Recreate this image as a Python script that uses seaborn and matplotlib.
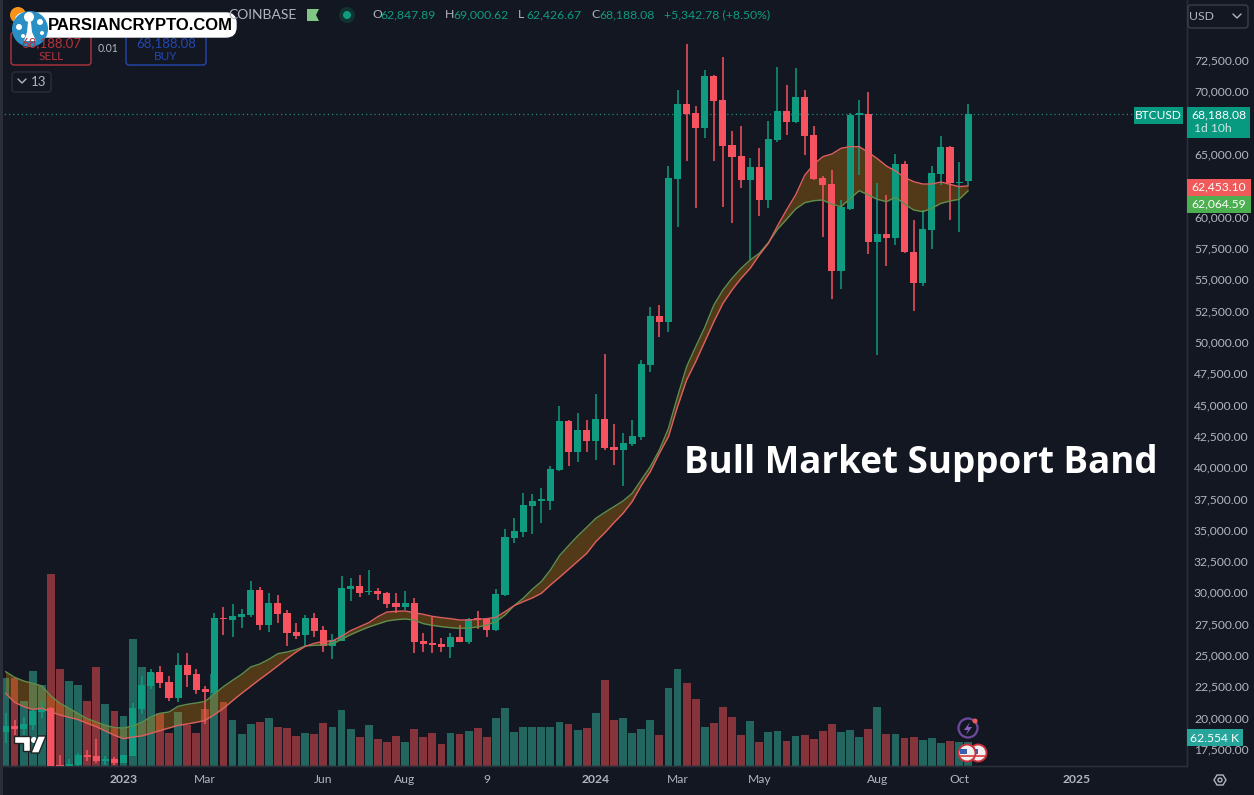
import numpy as np
import pandas as pd
import matplotlib
matplotlib.use('Agg')
import matplotlib.pyplot as plt
from matplotlib.patches import Circle, FancyBboxPatch, Polygon, Rectangle
import seaborn as sns

# weekly BTCUSD candles
opens = [18880, 19330, 19070, 19410, 20450, 20770, 16190, 16000, 16190, 16990, 16940, 16570, 16700, 16380, 16940, 20690, 22530, 23640, 22850, 21570,
         24200, 23480, 22310, 22000, 27960, 27800, 28040, 28200, 30190, 27400, 29150, 28350, 26840, 26600, 27960, 27000, 25720, 26120, 30270, 30510,
         30030, 30110, 29950, 29150, 28830, 29150, 26120, 25960, 25880, 25640, 26440, 26040, 27880, 27880, 27000, 29800, 34340, 34820, 36900, 37300,
         37300, 39770, 43680, 41210, 42960, 42090, 43840, 41610, 41370, 41850, 42400, 48150, 52060, 51590, 63000, 68990, 68270, 67070, 71220, 69310,
         65720, 64840, 62920, 63960, 61320, 66110, 68430, 67550, 69550, 66510, 63080, 62600, 55660, 60610, 68110, 68190, 57970, 58610, 58290, 64200,
         57170, 54700, 58930, 63400, 65560, 62680, 62847.89]
highs = [20400, 19810, 20080, 20740, 21280, 20880, 17020, 16670, 17150, 17420, 18300, 16940, 16890, 17050, 21200, 23330, 23860, 24120, 23330, 25140,
         25140, 23860, 22530, 28330, 28860, 29070, 28670, 30910, 30430, 29950, 29770, 28590, 27560, 28200, 28350, 27320, 26680, 31310, 31150, 31390,
         31790, 30350, 30030, 29950, 30110, 29530, 26730, 28060, 26330, 26730, 27400, 27930, 28510, 27930, 30270, 35060, 35940, 37930, 37850, 38330,
         40090, 44880, 43750, 44320, 43760, 45840, 49030, 43440, 42720, 43760, 48550, 52810, 52940, 64040, 70100, 73780, 68830, 71700, 71300, 72740,
         66830, 67230, 64680, 65480, 67630, 71970, 70500, 71860, 70100, 67230, 63240, 63720, 61320, 68240, 69310, 69950, 62680, 61720, 65000, 64440,
         59730, 60530, 64040, 66430, 65650, 64360, 69000.62]
lows = [17950, 18620, 18620, 19010, 19950, 15600, 15800, 15800, 16140, 16570, 16410, 16220, 16250, 16350, 16900, 20290, 22260, 22390, 21330, 21250,
        22450, 21890, 19490, 21800, 26600, 26440, 27160, 28040, 27000, 26840, 27560, 25720, 26280, 25720, 26440, 25240, 24680, 26100, 29310, 29630,
        29790, 29390, 28750, 28350, 28590, 25160, 25240, 25190, 25240, 24790, 26000, 25880, 27080, 26440, 26950, 29750, 33940, 34420, 34660, 35540,
        36580, 39700, 40090, 40410, 41210, 40570, 41370, 40170, 38490, 41690, 42170, 47590, 50410, 50790, 59170, 64440, 60690, 66270, 64440, 60770,
        59490, 62280, 56530, 60050, 60690, 65950, 66510, 67440, 64920, 62950, 58370, 53420, 54220, 60550, 63320, 57010, 48950, 56050, 57730, 57090,
        52460, 54460, 57410, 62520, 59730, 58770, 62426.67]
closes = [19330, 19070, 19490, 20530, 20800, 16000, 16000, 16270, 17020, 16890, 16510, 16670, 16380, 17020, 20770, 22610, 23640, 22770, 21570, 24200,
          23400, 22210, 22050, 27960, 27870, 28120, 28280, 30190, 27400, 29150, 28280, 26760, 26520, 27960, 26920, 25720, 26200, 30350, 30510, 29950,
          30110, 29870, 29070, 28830, 29150, 26040, 25880, 25800, 25640, 26440, 26040, 27880, 27800, 27000, 29870, 34420, 34900, 36980, 37300, 37380,
          39850, 43680, 41210, 42960, 42090, 43840, 41530, 41370, 41930, 42480, 48230, 52060, 51590, 63080, 68990, 68190, 67070, 71220, 69230, 65640,
          64760, 62920, 63960, 61320, 66190, 68430, 67550, 69550, 66430, 63000, 62520, 55660, 60770, 68110, 68190, 57970, 58610, 58290, 64200, 57170,
          54700, 59010, 63480, 65560, 62680, 62760, 68188.08]

# volume in thousands
volumes = [228, 230, 169, 247, 211, 499, 252, 221, 211, 169, 257, 161, 143, 130, 330, 257, 241, 137, 86, 140,
           107, 86, 148, 239, 166, 120, 83, 109, 114, 125, 101, 99, 78, 86, 83, 112, 101, 146, 96, 75,
           107, 70, 62, 78, 62, 96, 75, 86, 57, 86, 83, 91, 99, 75, 125, 151, 88, 101, 101, 101,
           101, 114, 109, 94, 99, 138, 224, 120, 125, 86, 96, 120, 81, 203, 252, 216, 174, 101, 112, 153,
           127, 81, 117, 62, 88, 91, 65, 78, 81, 70, 91, 109, 88, 94, 75, 96, 153, 83, 83, 73,
           75, 68, 73, 60, 65, 62, 62.554]

# bull market support band
ema_line = [23671, 23219, 22926, 22740, 22527, 21729, 21143, 20744, 20318, 19919, 19653, 19387, 19201, 19174, 19334, 19626, 20052, 20345, 20451, 20904,
            21063, 21170, 21303, 21888, 22474, 22979, 23458, 24044, 24283, 24656, 25108, 25241, 25427, 25720, 25773, 25800, 25880, 26252, 26625, 26944,
            27237, 27476, 27716, 27822, 27875, 27796, 27503, 27370, 27263, 27184, 27130, 27157, 27237, 27396, 27663, 28195, 28940, 29525, 30244, 30856,
            31787, 32931, 33730, 34501, 35193, 35912, 36391, 36843, 37295, 37907, 38972, 40036, 41367, 43096, 45624, 48019, 49616, 51159, 52942, 54139,
            55071, 55869, 56534, 57067, 57918, 58982, 59781, 60605, 61111, 61271, 61324, 60978, 60792, 61430, 62069, 61723, 61377, 61191, 61537, 61005,
            60526, 60393, 60659, 61058, 61244, 61377, 62064.59]
sma_line = [21941, 21223, 20877, 20664, 20744, 20451, 20212, 20025, 19839, 19546, 19280, 18934, 18589, 18322, 18455, 18535, 18748, 18961, 19174, 19387,
            19493, 19626, 19786, 20238, 20744, 21356, 21941, 22500, 23059, 23591, 24150, 24709, 25241, 25693, 25933, 26093, 26119, 26492, 26944, 27263,
            27583, 28062, 28434, 28487, 28514, 28381, 28248, 28088, 27982, 27902, 27796, 27796, 27849, 27902, 28008, 28461, 28940, 29259, 29552, 29924,
            30590, 31202, 31840, 32479, 33118, 34049, 34767, 35566, 36311, 37242, 38519, 39637, 41101, 42431, 44826, 46955, 48418, 50015, 51612, 53075,
            54139, 55071, 55869, 56934, 57865, 59248, 60526, 61723, 63293, 64171, 64783, 64996, 65448, 65581, 65581, 65129, 64624, 64038, 63639, 63133,
            62787, 62601, 62601, 62761, 62575, 62388, 62453.10]

# 62,500 and 67,500 sit behind the price tags in the reference
price_ticks = [17500, 20000, 22500, 25000, 27500, 30000, 32500, 35000, 37500, 40000, 42500, 45000,
               47500, 50000, 52500, 55000, 57500, 60000, 65000, 70000, 72500]
date_ticks = [13, 22, 35, 44, 53, 65, 74, 83, 96, 105, 118]
date_labels = ['2023', 'Mar', 'Jun', 'Aug', '9', '2024', 'Mar', 'May', 'Aug', 'Oct', '2025']

BG = '#131722'
UP = '#0f9b80'
DOWN = '#f7525f'
GRID = '#2a2e39'
TXT = '#b2b5be'
FS = 8.7

sns.set_theme(style='dark', rc={'figure.facecolor': BG, 'axes.facecolor': BG})
plt.rcParams['font.family'] = ['Lato', 'DejaVu Sans']

df = pd.DataFrame({'week': np.arange(len(closes)), 'open': opens, 'high': highs, 'low': lows,
                   'close': closes, 'volume': volumes, 'ema': ema_line, 'sma': sma_line})
df['dir'] = np.where(df['close'] >= df['open'], 'up', 'down')
up = df[df['dir'] == 'up']
down = df[df['dir'] == 'down']

fig = plt.figure(figsize=(12.54, 7.95), dpi=100)
ax_vol = fig.add_axes([0, 29 / 795, 1187 / 1254, 766 / 795])

# volume underneath everything
sns.barplot(data=df, x='week', y='volume', hue='dir', native_scale=True, dodge=False, width=0.86, saturation=1,
            palette={'up': '#22665f', 'down': '#84343a'}, legend=False, linewidth=0, ax=ax_vol)
ax_vol.set_ylim(0, 1992)
ax_vol.set_yticks([])
ax_vol.set_ylabel('')
ax_vol.set_xlabel('')

ax = ax_vol.twinx()
ax.set_zorder(ax_vol.get_zorder() + 1)
ax.patch.set_visible(False)

# candles
for part, col in [(up, UP), (down, DOWN)]:
    ax.vlines(part['week'], part['low'], part['high'], color=col, lw=1.1, zorder=3)
    ax.bar(part['week'], (part['close'] - part['open']).abs().clip(lower=120),
           bottom=part[['open', 'close']].min(axis=1), width=0.78, color=col, linewidth=0, zorder=4)

# band
ax.fill_between(df['week'], df['ema'], df['sma'], color='#ff9800', alpha=0.27, lw=0, zorder=2)
sns.lineplot(data=df, x='week', y='ema', color='#5f8f4c', lw=1.0, ax=ax, zorder=5)
sns.lineplot(data=df, x='week', y='sma', color='#dd5f5f', lw=1.0, ax=ax, zorder=5)

ax.axhline(68188.08, xmax=1134 / 1187, color='#1f8a78', lw=0.9, ls=(0, (1, 2.4)), zorder=1)

ax.set_xlim(-0.606, 130.1)
ax_vol.set_xlim(-0.606, 130.1)
ax.set_ylim(16140, 77290)
ax.set_ylabel('')
ax.set_xlabel('')
ax.set_yticks(price_ticks)
ax.set_yticklabels([f'{v:,.2f}' for v in price_ticks], color=TXT, fontsize=FS)
ax.tick_params(axis='y', length=0, pad=5)
ax_vol.set_xticks(date_ticks)
ax_vol.set_xticklabels(date_labels, color=TXT, fontsize=FS)
ax_vol.tick_params(axis='x', length=0, pad=6)
for lab in ax_vol.get_xticklabels():
    if lab.get_text() in ('2023', '2024', '2025'):
        lab.set_fontweight('bold')
for a in (ax, ax_vol):
    for side, sp in a.spines.items():
        sp.set_visible(side in ('right', 'bottom'))
        sp.set_color(GRID)
        sp.set_linewidth(1)

# everything below sits on a pixel overlay
ov = fig.add_axes([0, 0, 1, 1], zorder=20)
ov.set_xlim(0, 1254)
ov.set_ylim(795, 0)
ov.axis('off')
ov.patch.set_visible(False)


def tag(x0, y0, x1, y1, col):
    ov.add_patch(Rectangle((x0, y0), x1 - x0, y1 - y0, color=col, lw=0))


def box(x0, y0, x1, y1, edge, face='none', rad=3, lw=1):
    ov.add_patch(FancyBboxPatch((x0 + rad, y0 + rad), x1 - x0 - 2 * rad, y1 - y0 - 2 * rad,
                                boxstyle=f'round,pad={rad}', fc=face, ec=edge, lw=lw))


ov.add_patch(Rectangle((0, 0), 3, 795, color=GRID, lw=0))

# price tags
tag(1134, 107, 1183, 124, '#089981')
ov.text(1158.5, 115.5, 'BTCUSD', color='white', fontsize=8.6, ha='center', va='center')
tag(1187, 107, 1250, 138, '#089981')
ov.text(1219, 115, '68,188.08', color='white', fontsize=FS, ha='center', va='center')
ov.text(1194, 129, '1d 10h', color='#cfe9e4', fontsize=FS, ha='left', va='center')
tag(1187, 179, 1251, 196, '#f05a5a')
ov.text(1219, 187, '62,453.10', color='white', fontsize=FS, ha='center', va='center')
tag(1187, 196, 1251, 213, '#4caf50')
ov.text(1219, 204, '62,064.59', color='white', fontsize=FS, ha='center', va='center')
tag(1187, 729, 1243, 746, '#26a69a')
ov.text(1215, 738, '62.554 K', color='white', fontsize=FS, ha='center', va='center')

# header
ov.add_patch(Circle((18, 15), 8, color='#f7931a', lw=0))
ov.text(228, 15, 'COINBASE', color=TXT, fontsize=10, ha='left', va='center')
ov.add_patch(Polygon([(307, 9), (319, 9), (316, 15), (319, 21), (307, 21)], color='#81c784', lw=0))
ov.add_patch(Circle((347, 15), 8, color='#10332f', lw=0))
ov.add_patch(Circle((347, 15), 4, color='#0f9b80', lw=0))
hx = 372
for head, val in [('O', '62,847.89'), ('H', '69,000.62'), ('L', '62,426.67'), ('C', '68,188.08')]:
    ov.text(hx, 15, head, color=TXT, fontsize=8.8, ha='left', va='center')
    ov.text(hx + 8, 15, val, color='#0f9b80', fontsize=8.8, ha='left', va='center')
    hx += 73
ov.text(hx + 0, 15, '+5,342.78 (+8.50%)', color='#0f9b80', fontsize=8.8, ha='left', va='center')

# order buttons
box(11, 32, 91, 65, '#b5333c')
ov.text(51, 43, '68,188.07', color='#b5333c', fontsize=9.5, ha='center', va='center')
ov.text(51, 56, 'SELL', color='#b5333c', fontsize=8.5, ha='center', va='center')
ov.text(108, 48, '0.01', color=TXT, fontsize=7.6, ha='center', va='center')
box(126, 32, 206, 65, '#2447b0')
ov.text(166, 43, '68,188.08', color='#2447b0', fontsize=9.5, ha='center', va='center')
ov.text(166, 56, 'BUY', color='#2447b0', fontsize=8.5, ha='center', va='center')
box(12, 72, 51, 92, GRID)
ov.plot([18, 22, 26], [79, 83, 79], color=TXT, lw=1)
ov.text(39, 82, '13', color=TXT, fontsize=9.5, ha='center', va='center')

# usd box
box(1188, 5, 1248, 28, '#3a3e4a')
ov.text(1202, 16, 'USD', color=TXT, fontsize=8.8, ha='center', va='center')
ov.plot([1233, 1237, 1241], [14, 18, 14], color=TXT, lw=1)

# watermark
box(15, 13, 236, 37, 'white', face='white', rad=10)
ov.text(48, 25.5, 'PARSIANCRYPTO.COM', color='black', fontsize=12, fontweight='bold',
        family='Liberation Sans', ha='left', va='center')
ov.add_patch(Circle((30, 29), 18, color='#2a8fc4', lw=0))
for px, py, r in [(29, 17, 5), (19, 27, 3), (40, 22, 3), (23, 36, 2), (42, 33, 2)]:
    ov.add_patch(Circle((px, py), r, color='white', lw=0))
ov.add_patch(Polygon([(24, 41), (36, 41), (32, 32), (31, 22), (28, 22), (27, 32)], color='white', lw=0))

# chart caption
ov.text(684, 463, 'Bull Market Support Band', color='white', fontsize=26.5, fontweight='bold',
        family='Open Sans', ha='left', va='center')

# tv logo
ov.add_patch(Polygon([(14, 736), (30, 736), (30, 751), (23, 751), (23, 743), (14, 743)], color='white', ec='#222', lw=1))
ov.add_patch(Circle((34, 740), 3, color='white', lw=0))
ov.add_patch(Polygon([(38, 736), (46, 736), (39, 753), (31, 753)], color='white', ec='#222', lw=1))

# event markers
ov.add_patch(Circle((968, 728), 9.5, fc='none', ec='#6f4a9c', lw=1.6))
ov.add_patch(Polygon([(970, 722), (964, 730), (968, 730), (966, 735), (972, 727), (968, 727)], color='#8a5fc0', lw=0))
ov.add_patch(Circle((975, 721), 2.5, color='#f05a5a', lw=0))
for cx in (978, 967):
    ov.add_patch(Circle((cx, 753), 8.5, fc='#f0f0f0', ec='#c8323c', lw=1.4))
    ov.add_patch(Rectangle((cx - 7, 755), 14, 2, color='#e05a5a', lw=0))
    ov.add_patch(Rectangle((cx - 7, 749), 7, 5, color='#3a5fb0', lw=0))

# settings icon
ov.add_patch(Polygon([(1214, 780), (1217, 775), (1223, 775), (1226, 780), (1223, 785), (1217, 785)],
                     fc='none', ec=TXT, lw=1))
ov.add_patch(Circle((1220, 780), 2, fc='none', ec=TXT, lw=1))

fig.savefig('out.png', dpi=100, facecolor=BG)
